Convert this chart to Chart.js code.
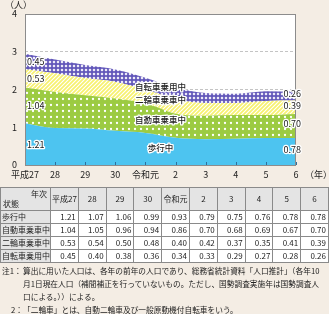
<!DOCTYPE html>
<html lang="ja">
<head>
<meta charset="utf-8">
<script src="https://cdn.jsdelivr.net/npm/chart.js@4.4.1/dist/chart.umd.min.js"></script>
<style>
  html, body { margin: 0; padding: 0; }
  body {
    width: 329px; height: 314px; background: #f4ede4; position: relative; overflow: hidden;
    font-family: "Noto Sans CJK JP", "Noto Sans", sans-serif; color: #222;
  }
  #chartBox { position: absolute; left: 0; top: 0; width: 329px; height: 186px; }
  #unit { position: absolute; left: 5px; top: -2px; font-size: 9px; }
  #yearUnit { position: absolute; left: 305px; top: 168px; font-size: 9px; }
  #tbl {
    position: absolute; left: 0; top: 187px; width: 328px;
    border-collapse: collapse; table-layout: fixed; font-size: 8px;
  }
  #tbl td { border: 1px solid #8a8a8a; padding: 0 2px; line-height: 10px; background: #fff; text-align: right; white-space: nowrap; overflow: hidden; }
  #tbl tr.head td { background: #e4e4e4; text-align: center; height: 22px; padding: 0 1px; }
  #tbl tr.row td { height: 12px; }
  #tbl td.name { background: #e4e4e4; text-align: left; padding: 0 1px; }
  #tbl td.diag {
    position: relative; padding: 0;
    background: #e4e4e4 linear-gradient(to top right, transparent calc(50% - 0.6px), #444 50%, transparent calc(50% + 0.6px));
  }
  #tbl td.diag span { position: absolute; font-size: 8px; }
  #notes { position: absolute; left: 0; top: 264px; width: 329px; font-size: 7.7px; line-height: 13px; }
  #notes div { display: flex; white-space: nowrap; }
  #notes .lab { width: 23px; flex: none; text-align: right; }
</style>
</head>
<body>
<div id="chartBox"><canvas id="chart" width="329" height="186"></canvas></div>
<div id="unit">（人）</div>
<div id="yearUnit">（年）</div>
<table id="tbl"></table>
<div id="notes">
  <div><span class="lab" style="text-align:left;padding-left:2px;width:21px">注1：</span><span>算出に用いた人口は、各年の前年の人口であり、総務省統計資料「人口推計」（各年10</span></div>
  <div><span class="lab"></span><span>月1日現在人口（補間補正を行っていないもの。ただし、国勢調査実施年は国勢調査人</span></div>
  <div><span class="lab"></span><span>口による。））による。</span></div>
  <div><span class="lab">2：</span><span>「二輪車」とは、自動二輪車及び一般原動機付自転車をいう。</span></div>
</div>
<script>
// categories and values (per 100k people, from the table)
const categories = ['平成27', '28', '29', '30', '令和元', '2', '3', '4', '5', '6'];
const walking = [1.21, 1.07, 1.06, 0.99, 0.93, 0.79, 0.75, 0.76, 0.78, 0.78];
const carOccupant = [1.04, 1.05, 0.96, 0.94, 0.86, 0.70, 0.68, 0.69, 0.67, 0.70];
const motorcycle = [0.53, 0.54, 0.50, 0.48, 0.40, 0.42, 0.37, 0.35, 0.41, 0.39];
const bicycle = [0.45, 0.40, 0.38, 0.36, 0.34, 0.33, 0.29, 0.27, 0.28, 0.26];
const seriesNames = ['歩行中', '自動車乗車中', '二輪車乗車中', '自転車乗用中'];
const yTicks = [0, 1, 2, 3, 4];

const seriesValues = [walking, carOccupant, motorcycle, bicycle];

// --- patterns ---
function makePattern(size, draw) {
    const c = document.createElement('canvas');
    c.width = size; c.height = size;
    const g = c.getContext('2d');
    draw(g, size);
    return g.createPattern(c, 'repeat');
}

const dotFill = makePattern(6, (g, s) => {
    g.fillStyle = '#9ccb42'; g.fillRect(0, 0, s, s);
    g.fillStyle = '#fff';
    g.beginPath(); g.arc(3, 3, 1.15, 0, Math.PI * 2); g.fill();
});
const stripeFill = makePattern(4, (g, s) => {
    g.fillStyle = '#f7f170'; g.fillRect(0, 0, s, s);
    g.strokeStyle = '#fff'; g.lineWidth = 1.1;
    g.beginPath();
    g.moveTo(-1, 5); g.lineTo(5, -1);
    g.moveTo(-1, 1); g.lineTo(1, -1);
    g.moveTo(3, 5); g.lineTo(5, 3);
    g.stroke();
});
const checkFill = makePattern(4, (g, s) => {
    g.fillStyle = '#6257ba'; g.fillRect(0, 0, s, s);
    g.fillStyle = '#fff';
    g.beginPath();
    g.moveTo(2, 0.5); g.lineTo(3.5, 2); g.lineTo(2, 3.5); g.lineTo(0.5, 2);
    g.closePath(); g.fill();
});
const fills = ['#4dc4f0', dotFill, stripeFill, checkFill];

// --- table under the chart ---
function buildTable() {
    const tbl = document.getElementById('tbl');
    let html = '<colgroup><col style="width:50px">';
    categories.forEach(() => { html += '<col style="width:27.8px">'; });
    html += '</colgroup>';
    html += '<tr class="head"><td class="diag"><span style="top:1px;right:3px">年次</span><span style="bottom:1px;left:2px">状態</span></td>';
    categories.forEach(c => { html += `<td>${c}</td>`; });
    html += '</tr>';
    seriesNames.forEach((name, i) => {
        html += `<tr class="row"><td class="name">${name}</td>`;
        seriesValues[i].forEach(v => { html += `<td>${v.toFixed(2)}</td>`; });
        html += '</tr>';
    });
    tbl.innerHTML = html;
}
buildTable();

// --- plugins ---
const plotBackground = {
    id: 'plotBackground',
    beforeDraw(chart) {
        const { ctx, chartArea: a } = chart;
        ctx.save();
        ctx.fillStyle = '#fff';
        ctx.fillRect(a.left, a.top, a.right - a.left, a.bottom - a.top);
        ctx.restore();
    }
};

const frameAndTicks = {
    id: 'frameAndTicks',
    afterDatasetsDraw(chart) {
        const { ctx, chartArea: a, scales } = chart;
        ctx.save();
        ctx.strokeStyle = '#2f6f9a';
        ctx.lineWidth = 1;
        scales.x.ticks.forEach((t, i) => {
            const x = Math.round(scales.x.getPixelForTick(i)) + 0.5;
            ctx.beginPath(); ctx.moveTo(x, a.bottom); ctx.lineTo(x, a.bottom - 3); ctx.stroke();
        });
        ctx.strokeStyle = '#8c8c8c';
        ctx.strokeRect(Math.round(a.left) + 0.5, Math.round(a.top) + 0.5,
            Math.round(a.right - a.left) - 1, Math.round(a.bottom - a.top));
        ctx.restore();
    }
};

function outlinedText(ctx, text, x, y) {
    ctx.lineWidth = 2.6;
    ctx.lineJoin = 'round';
    ctx.strokeStyle = '#fff';
    ctx.strokeText(text, x, y);
    ctx.fillStyle = '#222';
    ctx.fillText(text, x, y);
}

const bandLabels = {
    id: 'bandLabels',
    afterDatasetsDraw(chart) {
        const { ctx, chartArea: a } = chart;
        const last = categories.length - 1;
        const bandAt = (d, i) => {
            const top = chart.getDatasetMeta(d).data[i].y;
            const bottom = d === 0 ? a.bottom : chart.getDatasetMeta(d - 1).data[i].y;
            return { top, bottom };
        };
        ctx.save();
        ctx.textBaseline = 'middle';
        ctx.font = '9px "Noto Sans CJK JP", sans-serif';
        seriesValues.forEach((vals, d) => {
            const l = bandAt(d, 0);
            ctx.textAlign = 'left';
            outlinedText(ctx, vals[0].toFixed(2), a.left + 2, (l.top + l.bottom) / 2);
            const r = bandAt(d, last);
            ctx.textAlign = 'right';
            outlinedText(ctx, vals[last].toFixed(2), a.right + 5, (r.top + r.bottom) / 2 - 2);
        });
        // series names between 令和元 and 2
        ctx.font = '500 8.5px "Noto Sans CJK JP", sans-serif';
        ctx.textAlign = 'center';
        seriesNames.forEach((name, d) => {
            const b1 = bandAt(d, 4), b2 = bandAt(d, 5);
            const x = (chart.getDatasetMeta(d).data[4].x + chart.getDatasetMeta(d).data[5].x) / 2;
            const y = ((b1.top + b2.top) / 2 + (b1.bottom + b2.bottom) / 2) / 2 - 2;
            outlinedText(ctx, name, x, y);
        });
        ctx.restore();
    }
};

const tickFont = { family: '"Noto Sans CJK JP", sans-serif', size: 9 };

new Chart(document.getElementById('chart').getContext('2d'), {
    type: 'line',
    data: {
        labels: categories,
        datasets: seriesValues.map((vals, i) => ({
            label: seriesNames[i],
            data: vals,
            yAxisID: 'y',
            backgroundColor: fills[i],
            borderWidth: 0,
            pointRadius: 0,
            fill: i === 0 ? 'origin' : '-1',
            cubicInterpolationMode: 'monotone'
        }))
    },
    options: {
        responsive: false,
        animation: false,
        devicePixelRatio: 1,
        layout: { padding: { top: 14, right: 33, left: 0, bottom: 0 } },
        plugins: { legend: { display: false }, tooltip: { enabled: false } },
        scales: {
            x: {
                offset: false,
                grid: { display: false, drawTicks: false },
                border: { display: false },
                ticks: { font: tickFont, color: '#222', padding: 4, maxRotation: 0, autoSkip: false },
                afterFit(s) { s.height = 21; }
            },
            y: { stacked: true, display: false, min: 0, max: 4.38 },
            yAxis: {
                position: 'left',
                min: yTicks[0],
                max: yTicks[yTicks.length - 1],
                afterBuildTicks(s) { s.ticks = yTicks.map(v => ({ value: v })); },
                ticks: { font: tickFont, color: '#222', padding: 8 },
                grid: { color: '#c4c4c4', tickLength: 0, drawTicks: false },
                border: { display: false, dash: [3, 2] },
                afterFit(s) { s.width = 25; }
            }
        }
    },
    plugins: [plotBackground, frameAndTicks, bandLabels]
});
</script>
</body>
</html>
